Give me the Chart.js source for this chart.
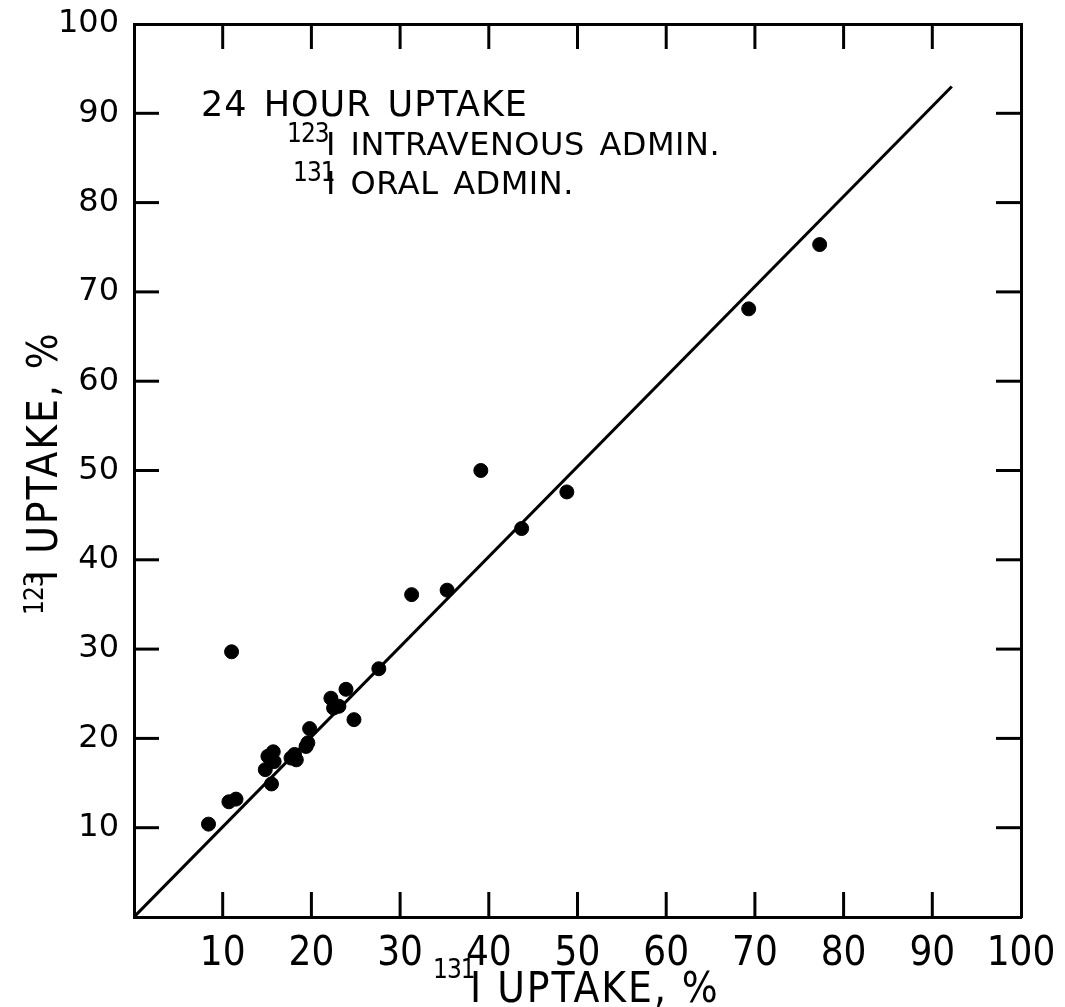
<!DOCTYPE html>
<html>
<head>
<meta charset="utf-8">
<script src="https://cdn.jsdelivr.net/npm/chart.js@4/dist/chart.umd.min.js"></script>
<style>
  html, body { margin: 0; padding: 0; background: #fff; }
  #wrap { width: 1065px; height: 1007px; }
</style>
</head>
<body>
<div id="wrap"><canvas id="c" width="1065" height="1007"></canvas></div>
<script>
// ---- Data ----
const uptake131 = [8.4, 10.7, 11.5, 11.0, 14.8, 15.5, 15.1, 15.7, 15.8, 17.7, 18.3, 18.1, 19.4, 19.6, 19.8, 22.2, 22.5, 23.1, 23.9, 24.8, 27.6, 31.3, 35.3, 39.1, 43.7, 48.8, 69.3, 77.3];
const uptake123 = [10.4, 12.9, 13.2, 29.7, 16.5, 14.9, 18.0, 18.5, 17.4, 17.8, 17.6, 18.2, 19.1, 19.5, 21.1, 24.5, 23.4, 23.6, 25.5, 22.1, 27.8, 36.1, 36.6, 50.0, 43.5, 47.6, 68.1, 75.3];
const fitLineX = [0, 92.2];
const fitLineY = [0, 93.0];
const tickValues = [10, 20, 30, 40, 50, 60, 70, 80, 90];
const axisMin = 0;
const axisMax = 100;
const axisStep = 10;
const xTitleSup = "131";
const xTitleMain = "I UPTAKE, %";
const yTitleSup = "123";
const yTitleMain = "I UPTAKE, %";
const noteLine1 = "24 HOUR UPTAKE";
const noteLine2Sup = "123";
const noteLine2 = "I INTRAVENOUS ADMIN.";
const noteLine3Sup = "131";
const noteLine3 = "I ORAL ADMIN.";

const INK = '#000';
const narrowFont = "'Liberation Sans Narrow', 'DejaVu Sans Condensed', 'Liberation Sans', sans-serif";
const roundFont = "'DejaVu Sans', sans-serif";

const scatterPts = uptake131.map((x, i) => ({ x: x, y: uptake123[i] }));
const linePts = fitLineX.map((x, i) => ({ x: x, y: fitLineY[i] }));

// inward tick marks and annotation text
const decorPlugin = {
  id: 'decor',
  afterDatasetsDraw(chart) {
    const ctx = chart.ctx;
    const xs = chart.scales.x, ys = chart.scales.y;
    const a = chart.chartArea;
    const L = 25;
    ctx.save();
    ctx.strokeStyle = INK;
    ctx.lineWidth = 3;
    ctx.lineCap = 'butt';
    tickValues.forEach(v => {
      const px = xs.getPixelForValue(v);
      ctx.beginPath(); ctx.moveTo(px, a.bottom); ctx.lineTo(px, a.bottom - L); ctx.stroke();
      ctx.beginPath(); ctx.moveTo(px, a.top); ctx.lineTo(px, a.top + L); ctx.stroke();
      const py = ys.getPixelForValue(v);
      ctx.beginPath(); ctx.moveTo(a.left, py); ctx.lineTo(a.left + L, py); ctx.stroke();
      ctx.beginPath(); ctx.moveTo(a.right, py); ctx.lineTo(a.right - L, py); ctx.stroke();
    });
    ctx.restore();

    // annotation block
    ctx.save();
    ctx.fillStyle = INK;
    ctx.textBaseline = 'alphabetic';
    ctx.textAlign = 'left';
    ctx.font = "35px " + roundFont;
    ctx.letterSpacing = '1px';
    ctx.wordSpacing = '4px';
    ctx.fillText(noteLine1, 201, 116);
    ctx.font = "32px " + roundFont;
    ctx.letterSpacing = '0.5px';
    ctx.wordSpacing = '4px';
    ctx.fillText(noteLine2, 326, 155);
    ctx.fillText(noteLine3, 326, 194);
    ctx.font = "26px " + narrowFont;
    ctx.letterSpacing = '-1px';
    ctx.wordSpacing = '0px';
    ctx.fillText(noteLine2Sup, 287, 142);
    ctx.fillText(noteLine3Sup, 293, 181);
    ctx.restore();

    // x axis title
    ctx.save();
    ctx.fillStyle = INK;
    ctx.textBaseline = 'alphabetic';
    ctx.font = "26px " + narrowFont;
    ctx.letterSpacing = '-1px';
    ctx.fillText(xTitleSup, 433, 978);
    ctx.font = "42px " + narrowFont;
    ctx.letterSpacing = '2px';
    ctx.fillText(xTitleMain, 470, 1002);
    ctx.restore();

    // y axis title (rotated)
    ctx.save();
    ctx.fillStyle = INK;
    ctx.textBaseline = 'alphabetic';
    ctx.translate(57, 615);
    ctx.rotate(-Math.PI / 2);
    ctx.font = "26px " + narrowFont;
    ctx.letterSpacing = '-1px';
    ctx.fillText(yTitleSup, 0, -14);
    ctx.font = "42px " + narrowFont;
    ctx.letterSpacing = '2px';
    ctx.fillText(yTitleMain, 34, 0);
    ctx.restore();
  }
};

const hideZero = (v) => (v === 0 ? '' : String(v));

new Chart(document.getElementById('c'), {
  type: 'scatter',
  data: {
    datasets: [
      {
        type: 'line',
        data: linePts,
        borderColor: INK,
        borderWidth: 3,
        pointRadius: 0,
        fill: false,
        tension: 0
      },
      {
        type: 'scatter',
        data: scatterPts,
        backgroundColor: INK,
        borderColor: INK,
        pointRadius: 7,
        pointHoverRadius: 7
      }
    ]
  },
  options: {
    responsive: false,
    animation: false,
    devicePixelRatio: 1,
    layout: { padding: 0 },
    plugins: { legend: { display: false }, tooltip: { enabled: false } },
    scales: {
      x: {
        type: 'linear', position: 'bottom', min: axisMin, max: axisMax,
        afterFit(s) { s.height = 90; s.paddingLeft = 0; s.paddingRight = 0; },
        ticks: { stepSize: axisStep, callback: hideZero, color: INK, padding: 14, maxRotation: 0,
                 font: { family: narrowFont, size: 40 } },
        grid: { display: true, drawOnChartArea: false, drawTicks: false },
        border: { display: true, color: INK, width: 3 }
      },
      x2: {
        type: 'linear', position: 'top', min: axisMin, max: axisMax,
        afterFit(s) { s.height = 24; s.paddingLeft = 0; s.paddingRight = 0; },
        ticks: { display: false },
        grid: { display: true, drawOnChartArea: false, drawTicks: false },
        border: { display: true, color: INK, width: 3 }
      },
      y: {
        type: 'linear', position: 'left', min: axisMin, max: axisMax,
        afterFit(s) { s.width = 134; s.paddingTop = 0; s.paddingBottom = 0; },
        ticks: { stepSize: axisStep, callback: hideZero, color: INK, padding: 15,
                 font: { family: roundFont, size: 32 } },
        grid: { display: true, drawOnChartArea: false, drawTicks: false },
        border: { display: true, color: INK, width: 3 }
      },
      y2: {
        type: 'linear', position: 'right', min: axisMin, max: axisMax,
        afterFit(s) { s.width = 44; s.paddingTop = 0; s.paddingBottom = 0; },
        ticks: { display: false },
        grid: { display: true, drawOnChartArea: false, drawTicks: false },
        border: { display: true, color: INK, width: 3 }
      }
    }
  },
  plugins: [decorPlugin]
});
</script>
</body>
</html>
